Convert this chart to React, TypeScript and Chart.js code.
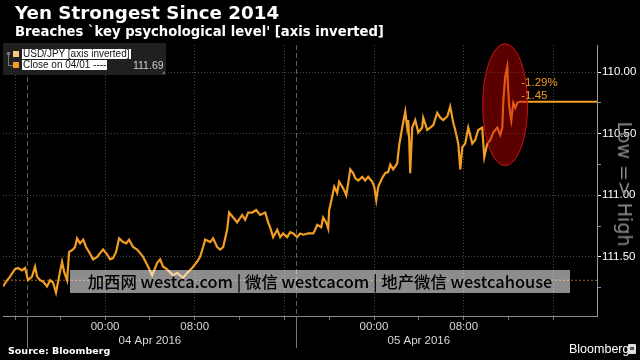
import React, { useEffect, useRef } from 'react';
import { Chart, registerables } from 'chart.js';

Chart.register(...registerables);

// Hours since 04 Apr 2016 00:00
const hoursFrom04Apr = [
  -9.11, -8.75, -8.48, -8.04, -7.77, -7.41, -7.14, -6.88, -6.52, -6.25,
  -6.07, -5.8, -5.54, -5.18, -4.91, -4.64, -4.38, -4.11, -3.84, -3.66,
  -3.39, -3.21, -2.86, -2.68, -2.5, -2.23, -1.96, -1.7, -1.43, -1.07,
  -0.71, -0.45, -0.18, 0.18, 0.45, 0.71, 0.98, 1.25, 1.61, 1.88,
  2.14, 2.5, 2.86, 3.13, 3.39, 3.84, 4.2, 4.64, 4.91, 5.18,
  5.36, 5.63, 6.07, 6.43, 6.96, 7.32, 7.77, 8.21, 8.48, 8.75,
  8.93, 9.38, 9.64, 10.0, 10.27, 10.54, 10.89, 11.07, 11.43, 11.79,
  12.23, 12.5, 12.77, 13.13, 13.48, 13.84, 14.29, 14.55, 14.73, 15.0,
  15.36, 15.63, 15.89, 16.25, 16.52, 16.79, 17.14, 17.41, 17.68, 18.13,
  18.57, 18.75, 18.93, 19.29, 19.46, 19.73, 19.91, 20.0, 20.27, 20.45,
  20.71, 20.89, 21.16, 21.34, 21.52, 21.7, 21.88, 22.14, 22.32, 22.59,
  22.95, 23.21, 23.48, 23.84, 24.02, 24.2, 24.38, 24.73, 25.0, 25.27,
  25.45, 25.71, 26.07, 26.25, 26.52, 26.79, 26.96, 27.05, 27.14, 27.23,
  27.41, 27.68, 27.95, 28.3, 28.39, 28.75, 29.02, 29.29, 29.64, 29.91,
  30.18, 30.54, 30.8, 31.07, 31.25, 31.52, 31.7, 31.88, 32.14, 32.41,
  32.77, 33.04, 33.3, 33.66, 33.84, 34.11, 34.38, 34.64, 35.0, 35.27,
  35.45, 35.54, 35.71, 35.89, 35.98, 36.07, 36.25, 36.43, 36.61, 36.79,
  36.96,
];

// USD/JPY
const usdJpy = [
  111.74, 111.69, 111.66, 111.6, 111.59, 111.61, 111.59, 111.69, 111.66, 111.58,
  111.66, 111.69, 111.7, 111.74, 111.69, 111.71, 111.79, 111.66, 111.54, 111.62,
  111.69, 111.46, 111.44, 111.42, 111.35, 111.39, 111.36, 111.42, 111.46, 111.52,
  111.5, 111.47, 111.44, 111.48, 111.52, 111.51, 111.46, 111.35, 111.38, 111.39,
  111.36, 111.42, 111.44, 111.47, 111.5, 111.58, 111.65, 111.55, 111.52, 111.58,
  111.59, 111.61, 111.65, 111.63, 111.67, 111.63, 111.59, 111.54, 111.5, 111.42,
  111.36, 111.38, 111.35, 111.42, 111.44, 111.42, 111.28, 111.14, 111.18, 111.22,
  111.16, 111.2, 111.14, 111.14, 111.12, 111.16, 111.14, 111.22, 111.26, 111.34,
  111.28, 111.34, 111.31, 111.34, 111.3, 111.31, 111.34, 111.31, 111.32, 111.31,
  111.31, 111.28, 111.24, 111.26, 111.18, 111.22, 111.27, 111.12, 111.01, 110.93,
  110.98, 110.89, 110.93, 110.96, 111.0, 110.9, 110.79, 110.82, 110.86, 110.88,
  110.85, 110.88, 110.85, 110.89, 110.93, 111.04, 110.93, 110.86, 110.82, 110.81,
  110.75, 110.79, 110.74, 110.59, 110.45, 110.32, 110.45, 110.39, 110.55, 110.82,
  110.45, 110.39, 110.49, 110.45, 110.37, 110.47, 110.45, 110.43, 110.33, 110.37,
  110.39, 110.36, 110.28, 110.41, 110.47, 110.58, 110.79, 110.61, 110.58, 110.45,
  110.58, 110.55, 110.47, 110.45, 110.69, 110.58, 110.55, 110.49, 110.45, 110.51,
  110.45, 110.23, 110.04, 109.96, 110.15, 110.28, 110.39, 110.25, 110.29, 110.25,
  110.24,
];

const closeOn0401 = 111.69;
const changeLabels = ['-1.29%', '-1.45'];

const xRange = [-9.11, 43.9];
const yRange = [109.78, 111.98];
const xTickHours = [-8, -4, 0, 4, 8, 12, 16, 20, 24, 28, 32, 36, 40];
const timeLabels: Record<string, string> = { '0': '00:00', '8': '08:00', '24': '00:00', '32': '08:00' };
const dateLabels: Record<string, string> = { '4': '04 Apr 2016', '28': '05 Apr 2016' };
const sessionBreakHours = [-7, 17];
const yTickValues = [110, 110.25, 110.5, 110.75, 111, 111.25, 111.5, 111.75];
const highlight = { fromHour: 33.7, toHour: 37.7, fromValue: 109.77, toValue: 110.76 };

const ORANGE = '#f29d24';

const isHalf = (v: number) => Math.abs(v * 2 - Math.round(v * 2)) < 1e-6;

const overlayPlugin = {
  id: 'overlayMarks',
  beforeDatasetsDraw(chart: any) {
    const { ctx, chartArea, scales } = chart;
    const x = scales.x;
    ctx.save();
    ctx.lineWidth = 1;
    for (const h of sessionBreakHours) {
      const px = Math.round(x.getPixelForValue(h)) + 0.5;
      ctx.strokeStyle = '#5e5e5e';
      ctx.setLineDash([5, 3]);
      ctx.beginPath();
      ctx.moveTo(px, chartArea.top);
      ctx.lineTo(px, chartArea.bottom);
      ctx.stroke();
      ctx.setLineDash([]);
      ctx.strokeStyle = '#7a7a7a';
      ctx.beginPath();
      ctx.moveTo(px, chartArea.bottom);
      ctx.lineTo(px, chartArea.bottom + 32);
      ctx.stroke();
    }
    ctx.restore();
  },
  afterDatasetsDraw(chart: any) {
    const { ctx, scales } = chart;
    const x = scales.x;
    const y = scales.y;
    ctx.save();
    const x1 = x.getPixelForValue(highlight.fromHour);
    const x2 = x.getPixelForValue(highlight.toHour);
    const y1 = y.getPixelForValue(highlight.fromValue);
    const y2 = y.getPixelForValue(highlight.toValue);
    ctx.beginPath();
    ctx.ellipse((x1 + x2) / 2, (y1 + y2) / 2, Math.abs(x2 - x1) / 2, Math.abs(y2 - y1) / 2, 0, 0, Math.PI * 2);
    ctx.fillStyle = 'rgba(200,0,0,0.45)';
    ctx.fill();
    ctx.strokeStyle = 'rgba(225,20,20,0.9)';
    ctx.lineWidth = 1;
    ctx.stroke();

    const lastH = hoursFrom04Apr[hoursFrom04Apr.length - 1];
    const lastV = usdJpy[usdJpy.length - 1];
    const lx = x.getPixelForValue(lastH) + 2;
    const ly = y.getPixelForValue(lastV);
    ctx.fillStyle = ORANGE;
    ctx.font = '11.5px "Liberation Sans", Arial, sans-serif';
    ctx.textAlign = 'left';
    ctx.textBaseline = 'middle';
    ctx.fillText(changeLabels[0], lx, ly - 19);
    ctx.fillText(changeLabels[1], lx, ly - 6);
    ctx.restore();
  },
};

export default function App() {
  const canvasRef = useRef<HTMLCanvasElement | null>(null);

  useEffect(() => {
    document.body.style.margin = '0';
    const canvas = canvasRef.current;
    if (!canvas) return;
    const lastH = hoursFrom04Apr[hoursFrom04Apr.length - 1];
    const lastV = usdJpy[usdJpy.length - 1];
    const chart = new Chart(canvas, {
      type: 'line',
      data: {
        datasets: [
          {
            label: 'USD/JPY [axis inverted]',
            data: hoursFrom04Apr.map((h, i) => ({ x: h, y: usdJpy[i] })),
            borderColor: ORANGE,
            borderWidth: 2.2,
            pointRadius: 0,
            tension: 0,
          },
          {
            label: 'Last',
            data: [
              { x: lastH, y: lastV },
              { x: xRange[1], y: lastV },
            ],
            borderColor: '#f5a21f',
            borderWidth: 2,
            pointRadius: 0,
          },
          {
            label: 'Close on 04/01',
            data: [
              { x: xRange[0], y: closeOn0401 },
              { x: xRange[1], y: closeOn0401 },
            ],
            borderColor: '#a8651a',
            borderWidth: 1,
            borderDash: [2, 2],
            pointRadius: 0,
          },
        ],
      },
      options: {
        animation: false,
        responsive: false,
        devicePixelRatio: 1,
        layout: { padding: { left: 3, top: 45, right: 0, bottom: 0 } },
        plugins: { legend: { display: false }, tooltip: { enabled: false } },
        scales: {
          x: {
            type: 'linear',
            position: 'bottom',
            min: xRange[0],
            max: xRange[1],
            afterBuildTicks: (s: any) => {
              s.ticks = xTickHours.map((v) => ({ value: v }));
            },
            afterFit: (s: any) => {
              s.height = 44;
            },
            grid: {
              color: (c: any) => (c.tick && c.tick.value % 8 === 0 ? '#484848' : 'rgba(0,0,0,0)'),
              tickColor: '#777',
              tickLength: 4,
              lineWidth: 1,
            },
            border: { display: true, color: '#8c8c8c', dash: [1, 2] },
            ticks: {
              autoSkip: false,
              maxRotation: 0,
              minRotation: 0,
              padding: 0,
              color: '#d8d8d8',
              font: { family: '"Liberation Sans", Arial, sans-serif', size: 11.5 },
              callback: (v: any) => {
                const k = String(Number(v));
                if (timeLabels[k]) return timeLabels[k];
                if (dateLabels[k]) return ['', dateLabels[k]];
                return '';
              },
            },
          },
          y: {
            type: 'linear',
            position: 'right',
            reverse: true,
            min: yRange[0],
            max: yRange[1],
            afterBuildTicks: (s: any) => {
              s.ticks = yTickValues.map((v) => ({ value: v }));
            },
            afterFit: (s: any) => {
              s.width = 43;
            },
            grid: {
              color: (c: any) => (c.tick && isHalf(c.tick.value) ? '#484848' : 'rgba(0,0,0,0)'),
              tickColor: (c: any) => (c.tick && isHalf(c.tick.value) ? '#ffffff' : '#888'),
              tickLength: 4,
              lineWidth: 1,
            },
            border: { display: true, color: '#9a9a9a', dash: [1, 2] },
            ticks: {
              padding: 1,
              color: '#ffffff',
              font: { family: '"Liberation Sans", Arial, sans-serif', size: 11.5 },
              callback: (v: any) => {
                const n = Number(v);
                return isHalf(n) ? n.toFixed(2) : '';
              },
            },
          },
        },
      },
      plugins: [overlayPlugin],
    } as any);
    return () => chart.destroy();
  }, []);

  const abs = (s: React.CSSProperties): React.CSSProperties => ({ position: 'absolute', margin: 0, whiteSpace: 'nowrap', ...s });

  return (
    <div style={{ position: 'fixed', left: 0, top: 0, width: 640, height: 360, background: '#000', overflow: 'hidden' }}>
      <canvas ref={canvasRef} width={640} height={360} style={{ display: 'block', width: 640, height: 360 }} />
      <div style={abs({ left: 15, top: 4, color: '#fff', font: 'bold 18.3px "DejaVu Sans", sans-serif', lineHeight: '18px' })}>
        Yen Strongest Since 2014
      </div>
      <div style={abs({ left: 15, top: 26, color: '#fff', font: 'bold 13.2px "DejaVu Sans", sans-serif', lineHeight: '12px' })}>
        Breaches `key psychological level' [axis inverted]
      </div>

      {/* legend */}
      <div style={abs({ left: 3, top: 43, width: 163, height: 32, background: '#202020' })}>
        <div style={abs({ left: 4, top: 9, width: 3, height: 3, background: '#777' })} />
        <div style={abs({ left: 5, top: 12, width: 1, height: 10, background: '#777' })} />
        <div style={abs({ left: 5, top: 22, width: 5, height: 1, background: '#777' })} />
        <div style={abs({ left: 10, top: 8, width: 6, height: 6, background: '#f7c585' })} />
        <div style={abs({ left: 10, top: 19, width: 6, height: 6, background: ORANGE })} />
        <div style={abs({ left: 19, top: 6, background: '#fff', color: '#111', font: '10px "Liberation Sans", Arial, sans-serif', lineHeight: '10px', padding: '0 1px' })}>
          USD/JPY [axis inverted]
        </div>
        <div style={abs({ left: 19, top: 17, background: '#fff', color: '#111', font: '10px "Liberation Sans", Arial, sans-serif', lineHeight: '10px', padding: '0 1px' })}>
          Close on 04/01 ----
        </div>
        <div style={abs({ left: 130, top: 17, color: '#d0d0d0', font: '10.5px "Liberation Sans", Arial, sans-serif', lineHeight: '11px' })}>
          111.69
        </div>
        <div style={abs({ left: 159, top: 28, width: 0, height: 0, borderLeft: '3px solid transparent', borderBottom: '3px solid #777' })} />
      </div>

      {/* axis caption */}
      <div
        style={abs({
          left: 625,
          top: 184,
          color: '#8a8a8a',
          font: '19px "DejaVu Sans", sans-serif',
          transform: 'translate(-50%, -50%) rotate(90deg)',
        })}
      >
        {'Low => High'}
      </div>

      {/* watermark */}
      <div
        style={abs({
          left: 70,
          top: 270,
          width: 500,
          height: 23,
          background: 'rgba(255,255,255,0.55)',
          color: '#000',
          font: '500 16.4px "Noto Sans CJK SC", sans-serif',
          lineHeight: '23px',
          textAlign: 'center',
        })}
      >
        加西网 westca.com | 微信 westcacom | 地产微信 westcahouse
      </div>

      <div style={abs({ left: 8, top: 346, color: '#fff', font: 'bold 9.5px "DejaVu Sans", sans-serif', lineHeight: '10px' })}>
        Source: Bloomberg
      </div>
      <div style={abs({ left: 569, top: 343, color: '#fff', font: '12.5px "Liberation Sans", Arial, sans-serif', lineHeight: '13px' })}>
        Bloomberg
      </div>
      <div style={abs({ left: 628, top: 344, width: 8, height: 10, background: '#ddd', borderRadius: 1 })}>
        <div style={abs({ left: 2, top: 3, width: 4, height: 3, background: '#555' })} />
      </div>
    </div>
  );
}
